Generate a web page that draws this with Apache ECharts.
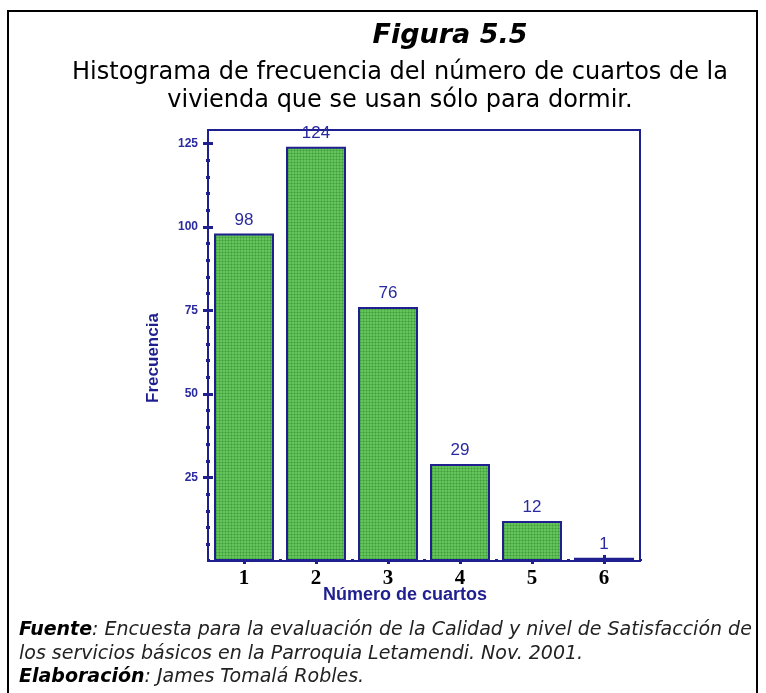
<!DOCTYPE html>
<html>
<head>
<meta charset="utf-8">
<script src="https://cdn.jsdelivr.net/npm/echarts@6/dist/echarts.min.js"></script>
<style>
  html, body { margin: 0; padding: 0; background: #fff; }
  #main { width: 766px; height: 693px; }
</style>
</head>
<body>
<div id="main"></div>
<script>
// datos del histograma
var cuartos = ['1', '2', '3', '4', '5', '6'];
var frecuencia = [98, 124, 76, 29, 12, 1];
var ticksY = [25, 50, 75, 100, 125];

var azul = '#1f1f8f';

// textura verde de las barras
function texturaVerde() {
    var c = document.createElement('canvas');
    c.width = 3;
    c.height = 3;
    var ctx = c.getContext('2d');
    ctx.fillStyle = '#52b44a';
    ctx.fillRect(0, 0, 3, 3);
    ctx.fillStyle = '#3f9a3c';
    ctx.fillRect(0, 0, 1, 1);
    ctx.fillStyle = '#66c25c';
    ctx.fillRect(1, 1, 2, 2);
    return c;
}

var chart = echarts.init(document.getElementById('main'));
var option = {
    backgroundColor: '#fff',
    animation: false,
    grid: {
        left: 208,
        right: 126,
        top: 130,
        bottom: 132,
        show: true,
        borderColor: azul,
        borderWidth: 2
    },
    xAxis: [{
        type: 'category',
        data: cuartos,
        axisLine: { lineStyle: { color: azul, width: 2 } },
        axisTick: { show: true, inside: true, length: 2, lineStyle: { color: azul, width: 3 } },
        axisLabel: {
            margin: 7,
            color: '#000',
            fontFamily: 'Liberation Serif',
            fontWeight: 'bold',
            fontSize: 21
        }
    }, {
        type: 'category',
        data: cuartos,
        position: 'bottom',
        axisLine: { show: false },
        axisTick: { show: true, alignWithLabel: true, inside: true, length: 6, lineStyle: { color: azul, width: 3 } },
        axisLabel: { show: false }
    }, {
        type: 'category',
        data: cuartos,
        position: 'bottom',
        axisLine: { show: false },
        axisTick: { show: true, alignWithLabel: true, length: 3, lineStyle: { color: azul, width: 3 } },
        axisLabel: { show: false }
    }],
    yAxis: [{
        type: 'value',
        min: 0,
        max: 129,
        interval: 25,
        splitLine: { show: false },
        axisLine: { show: true, lineStyle: { color: azul, width: 2 } },
        axisTick: { show: true, length: 5, customValues: ticksY, lineStyle: { color: azul, width: 3 } },
        minorTick: { show: true, splitNumber: 5, length: 2, lineStyle: { color: azul, width: 3 } },
        axisLabel: {
            margin: 10,
            color: '#2a2aa0',
            fontFamily: 'Liberation Sans',
            fontWeight: 'bold',
            fontSize: 12,
            customValues: ticksY
        }
    }, {
        type: 'value',
        position: 'left',
        min: 0,
        max: 129,
        interval: 25,
        splitLine: { show: false },
        axisLine: { show: false },
        axisTick: { show: true, inside: true, length: 5, customValues: ticksY, lineStyle: { color: azul, width: 3 } },
        minorTick: { show: true, splitNumber: 5, length: 2, lineStyle: { color: azul, width: 3 } },
        axisLabel: { show: false }
    }],
    series: [{
        type: 'bar',
        data: frecuencia,
        barCategoryGap: '16.7%',
        itemStyle: {
            color: { image: texturaVerde(), repeat: 'repeat' },
            borderColor: azul,
            borderWidth: 2
        },
        label: {
            show: true,
            position: 'top',
            distance: 5,
            color: '#2a2aa0',
            fontFamily: 'Liberation Sans',
            fontSize: 17
        }
    }],
    graphic: [{
        type: 'rect',
        shape: { x: 8, y: 11, width: 749, height: 700 },
        style: { fill: null, stroke: '#000', lineWidth: 2 },
        z: -1
    }, {
        type: 'text',
        x: 450, y: 36,
        style: {
            text: 'Figura 5.5',
            align: 'center', verticalAlign: 'middle',
            font: 'italic bold 27px "DejaVu Sans"',
            fill: '#000'
        }
    }, {
        type: 'text',
        x: 400, y: 73,
        style: {
            text: 'Histograma de frecuencia del número de cuartos de la',
            align: 'center', verticalAlign: 'middle',
            font: '24px "DejaVu Sans"',
            fill: '#000'
        }
    }, {
        type: 'text',
        x: 400, y: 101,
        style: {
            text: 'vivienda que se usan sólo para dormir.',
            align: 'center', verticalAlign: 'middle',
            font: '24px "DejaVu Sans"',
            fill: '#000'
        }
    }, {
        type: 'text',
        x: 153, y: 358,
        rotation: Math.PI / 2,
        style: {
            text: 'Frecuencia',
            align: 'center', verticalAlign: 'middle',
            font: 'bold 17px "Liberation Sans"',
            fill: azul
        }
    }, {
        type: 'text',
        x: 405, y: 595,
        style: {
            text: 'Número de cuartos',
            align: 'center', verticalAlign: 'middle',
            font: 'bold 18px "Liberation Sans"',
            fill: azul
        }
    }, {
        type: 'text',
        x: 19, y: 630,
        style: {
            text: '{b|Fuente}: Encuesta para la evaluación de la Calidad y nivel de Satisfacción de',
            verticalAlign: 'middle',
            font: 'italic 19px "DejaVu Sans"',
            fill: '#222',
            rich: { b: { font: 'italic bold 19px "DejaVu Sans"', fill: '#000' } }
        }
    }, {
        type: 'text',
        x: 19, y: 654,
        style: {
            text: 'los servicios básicos en la Parroquia Letamendi. Nov. 2001.',
            verticalAlign: 'middle',
            font: 'italic 19px "DejaVu Sans"',
            fill: '#222'
        }
    }, {
        type: 'text',
        x: 19, y: 677,
        style: {
            text: '{b|Elaboración}: James Tomalá Robles.',
            verticalAlign: 'middle',
            font: 'italic 19px "DejaVu Sans"',
            fill: '#222',
            rich: { b: { font: 'italic bold 19px "DejaVu Sans"', fill: '#000' } }
        }
    }]
};
chart.setOption(option);
</script>
</body>
</html>
